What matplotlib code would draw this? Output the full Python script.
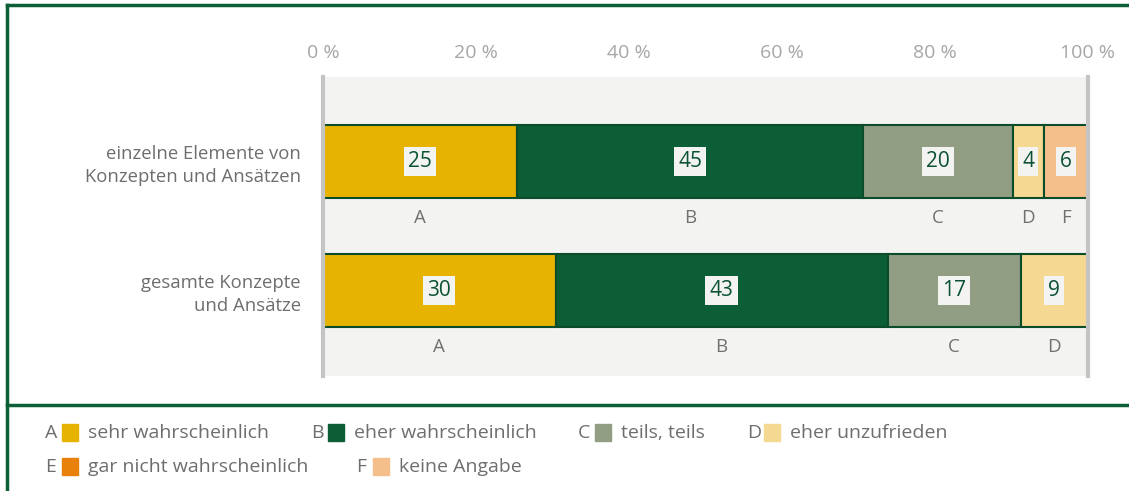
import matplotlib.pyplot as plt
from matplotlib.lines import Line2D
from matplotlib.patches import Rectangle

plt.rcParams['font.family'] = ['Open Sans', 'DejaVu Sans']

# Daten
categories = ['einzelne Elemente von\nKonzepten und Ansätzen',
              'gesamte Konzepte\nund Ansätze']
letters = ['A', 'B', 'C', 'D', 'E', 'F']
legend_texts = ['sehr wahrscheinlich', 'eher wahrscheinlich', 'teils, teils',
                'eher unzufrieden', 'gar nicht wahrscheinlich', 'keine Angabe']
colors = ['#e6b400', '#0b5e36', '#929e84', '#f5d891', '#e8800c', '#f5bf8c']
# Anteile in Prozent (A..F), 0 = nicht vorhanden
values_einzelne = [25.4, 45.2, 19.6, 4.0, 0.0, 5.8]
values_gesamt = [30.4, 43.4, 17.4, 8.8, 0.0, 0.0]
labels_einzelne = [25, 45, 20, 4, None, 6]
labels_gesamt = [30, 43, 17, 9, None, None]
ticks = [0, 20, 40, 60, 80, 100]

W, H = 1129, 491
fig = plt.figure(figsize=(W / 100, H / 100), dpi=100)
ax = fig.add_axes([323 / W, 1 - 376 / H, (1088 - 323) / W, (376 - 77) / H])
ax.set_facecolor('#f3f3f2')

dark = '#0b4d2a'
rows = [(values_einzelne, labels_einzelne), (values_gesamt, labels_gesamt)]
for yi, (vals, labs) in enumerate(rows):
    left = 0
    for k, v in enumerate(vals):
        if v <= 0:
            continue
        ax.barh(yi, v, left=left, height=0.566, color=colors[k],
                edgecolor=dark, linewidth=1.5, zorder=2)
        cx = left + v / 2
        ax.text(cx, yi, str(labs[k]), ha='center', va='center', fontsize=15,
                color='#0b5232', zorder=3,
                bbox=dict(boxstyle='square,pad=0.2', fc='#f3f3f2', ec='none'))
        ax.annotate(letters[k], (cx, yi + 0.283), xytext=(0, -8),
                    textcoords='offset points', ha='center', va='top',
                    fontsize=13.5, color='#707070')
        left += v

ax.set_xlim(0, 100)
ax.set_ylim(1.663, -0.655)
ax.set_yticks([0, 1])
ax.set_yticklabels(categories, fontsize=13.3, color='#6e6e6e', linespacing=1.3)
ax.set_xticks(ticks)
ax.set_xticklabels([f'{t} %' for t in ticks], fontsize=14, color='#a6a6a6')
ax.xaxis.tick_top()
ax.tick_params(axis='x', length=0, pad=11)
ax.tick_params(axis='y', length=0, pad=16)
for s in ['top', 'bottom']:
    ax.spines[s].set_visible(False)
for s in ['left', 'right']:
    ax.spines[s].set_color('#c4c4c4')
    ax.spines[s].set_linewidth(3)

# Rahmen
green = '#0b5e36'
fig.add_artist(Line2D([7 / W, 1], [1 - 5 / H, 1 - 5 / H], color=green, lw=2.5))
fig.add_artist(Line2D([7 / W, 7 / W], [0, 1 - 5 / H], color=green, lw=2.5))
fig.add_artist(Line2D([7 / W, 1], [1 - 405 / H, 1 - 405 / H], color=green, lw=2.5))

# Legende
legend_pos = [(45, 433), (311, 433), (578, 433), (747, 433), (45, 467), (356, 467)]
for k, (px, py) in enumerate(legend_pos):
    fig.text(px / W, 1 - py / H, letters[k], fontsize=14, color='#6e6e6e',
             va='center', ha='left')
    fig.add_artist(Rectangle(((px + 17) / W, 1 - (py + 8) / H), 16 / W, 17 / H,
                             transform=fig.transFigure, color=colors[k]))
    fig.text((px + 43) / W, 1 - py / H, legend_texts[k], fontsize=14,
             color='#6e6e6e', va='center', ha='left')

fig.savefig('out.png', dpi=100, facecolor='white')
